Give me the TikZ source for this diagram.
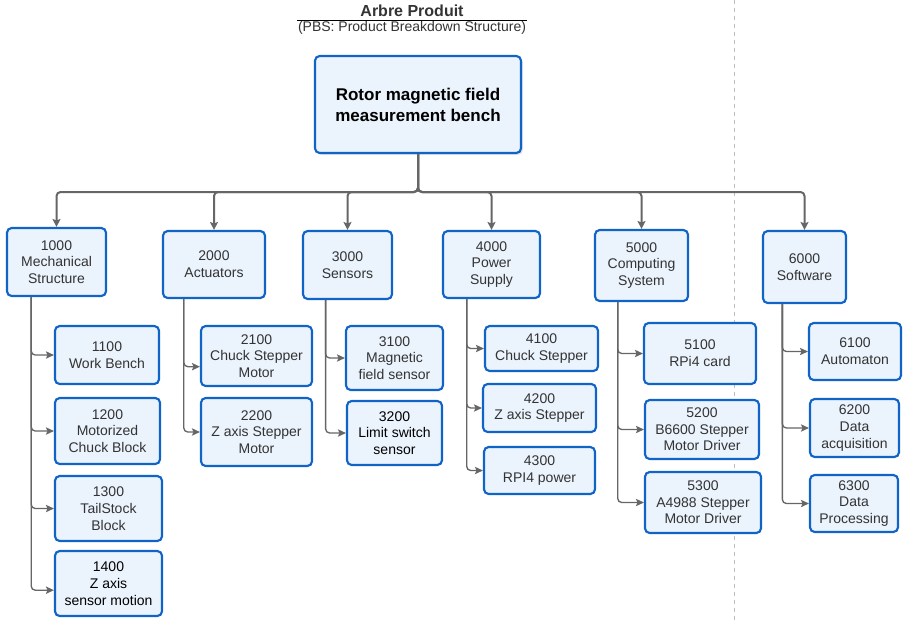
\documentclass[tikz,border=0pt]{standalone}
\usepackage{fontspec}
\setmainfont{Liberation Sans}
\usepackage{tikz}
\usetikzlibrary{positioning,arrows.meta,calc,shadows}
\definecolor{bdr}{HTML}{1164C7}
\definecolor{bfill}{HTML}{EBF3FD}
\definecolor{ink}{HTML}{333333}
\definecolor{lnk}{HTML}{666666}
\definecolor{sep}{HTML}{BDBDBD}

\begin{document}
\begin{tikzpicture}[x=0.75pt,y=-0.75pt,font=\fontsize{10.5}{12.5}\selectfont,
  box/.style 2 args={draw=bdr,line width=1.6pt,fill=bfill,rounded corners=3.5pt,align=center,
    text=ink,inner sep=1pt,minimum width=#1*0.75pt,minimum height=#2*0.75pt},
  rootbox/.style={box={206}{97},text=black,font=\bfseries\fontsize{12.75}{15.75}\selectfont,
    drop shadow={opacity=0.2,shadow xshift=1.5pt,shadow yshift=-1.5pt}},
  main/.style={draw=lnk,line width=1.5pt,rounded corners=3pt,-{Stealth[length=6pt,width=6pt,inset=1.2pt]}},
  sub/.style={draw=lnk,line width=1pt,rounded corners=3pt,-{Stealth[length=6pt,width=5.5pt,inset=1.2pt]}}]
  \useasboundingbox (0,0) rectangle (905,622);
  % separator on the right
  \draw[sep,line width=0.75pt,dash pattern=on 3pt off 3pt] (734,0) -- (734,622);
  % heading
  \node[font=\bfseries\fontsize{12}{14}\selectfont,text=ink] (title) at (412,11) {Arbre Produit};
  \node[text=ink,inner sep=0.5pt] (subt) at (412,28) {(PBS: Product Breakdown Structure)};
  \draw[black,line width=0.6pt] (subt.north west) -- (subt.north east);
  % root
  \node[rootbox] (root) at (418,104.5) {Rotor magnetic field\\measurement bench};
  \coordinate (bus) at (418,192);
  % first level
  \node[box={99}{68}] (n1000) at (56.5,262) {1000\\Mechanical\\Structure};
  \node[box={102}{67}] (n2000) at (214,264.5) {2000\\Actuators};
  \node[box={89}{68}] (n3000) at (347.5,265) {3000\\Sensors};
  \node[box={97}{67}] (n4000) at (491.5,264.5) {4000\\Power\\Supply};
  \node[box={93}{71}] (n5000) at (641.5,265.5) {5000\\Computing\\System};
  \node[box={83}{72}] (n6000) at (804.5,267) {6000\\Software};
  \draw[main] (root.south) -- (bus) -| (n1000.north);
  \draw[main] (root.south) -- (bus) -| (n2000.north);
  \draw[main] (root.south) -- (bus) -| (n3000.north);
  \draw[main] (root.south) -- (bus) -| (n4000.north);
  \draw[main] (root.south) -- (bus) -| (n5000.north);
  \draw[main] (root.south) -- (bus) -| (n6000.north);
  % second level: mechanical
  \node[box={104}{58}] (n1100) at (107,355) {1100\\Work Bench};
  \node[box={105}{66}] (n1200) at (107.5,431) {1200\\Motorized\\Chuck Block};
  \node[box={107}{65}] (n1300) at (108.5,508.5) {1300\\TailStock\\Block};
  \node[box={107}{65},text=black] (n1400) at (108.5,583.5) {1400\\Z axis\\sensor motion};
  \coordinate (t1000) at ($(n1000.south west)!0.25!(n1000.south east)$);
  \draw[sub] (t1000) |- (n1100.west); \draw[sub] (t1000) |- (n1200.west);
  \draw[sub] (t1000) |- (n1300.west); \draw[sub] (t1000) |- ([yshift=-5pt]n1400.west);
  % actuators
  \node[box={111}{60}] (n2100) at (256.5,356) {2100\\Chuck Stepper\\Motor};
  \node[box={111}{68}] (n2200) at (256.5,432) {2200\\Z axis Stepper\\Motor};
  \coordinate (t2000) at ($(n2000.south west)!0.21!(n2000.south east)$);
  \draw[sub] (t2000) |- ([yshift=-8pt]n2100.west); \draw[sub] (t2000) |- (n2200.west);
  % sensors
  \node[box={97}{64}] (n3100) at (394.5,358) {3100\\Magnetic\\field sensor};
  \node[box={95}{64},text=black] (n3200) at (394.5,433) {3200\\Limit switch\\sensor};
  \coordinate (t3000) at ($(n3000.south west)!0.26!(n3000.south east)$);
  \draw[sub] (t3000) |- (n3100.west); \draw[sub] (t3000) |- (n3200.west);
  % power supply
  \node[box={113}{45}] (n4100) at (541.5,348.5) {4100\\Chuck Stepper};
  \node[box={113}{48}] (n4200) at (539.5,408) {4200\\Z axis Stepper};
  \node[box={111}{47}] (n4300) at (539.5,470.5) {4300\\RPI4 power};
  \coordinate (t4000) at ($(n4000.south west)!0.25!(n4000.south east)$);
  \draw[sub] (t4000) |- (n4100.west); \draw[sub] (t4000) |- (n4200.west);
  \draw[sub] (t4000) |- (n4300.west);
  % computing system
  \node[box={112}{61}] (n5100) at (700,353.5) {5100\\RPi4 card};
  \node[box={114}{59}] (n5200) at (702,429.5) {5200\\B6600 Stepper\\Motor Driver};
  \node[box={116}{61}] (n5300) at (703,502.5) {5300\\A4988 Stepper\\Motor Driver};
  \coordinate (t5000) at ($(n5000.south west)!0.25!(n5000.south east)$);
  \draw[sub] (t5000) |- (n5100.west); \draw[sub] (t5000) |- (n5200.west);
  \draw[sub] (t5000) |- (n5300.west);
  % software
  \node[box={92}{57}] (n6100) at (855,351.5) {6100\\Automaton};
  \node[box={89}{58}] (n6200) at (854.5,428) {6200\\Data\\acquisition};
  \node[box={88}{57}] (n6300) at (854,503.5) {6300\\Data\\Processing};
  \coordinate (t6000) at ($(n6000.south west)!0.24!(n6000.south east)$);
  \draw[sub] (t6000) |- (n6100.west); \draw[sub] (t6000) |- (n6200.west);
  \draw[sub] (t6000) |- (n6300.west);
\end{tikzpicture}
\end{document}
